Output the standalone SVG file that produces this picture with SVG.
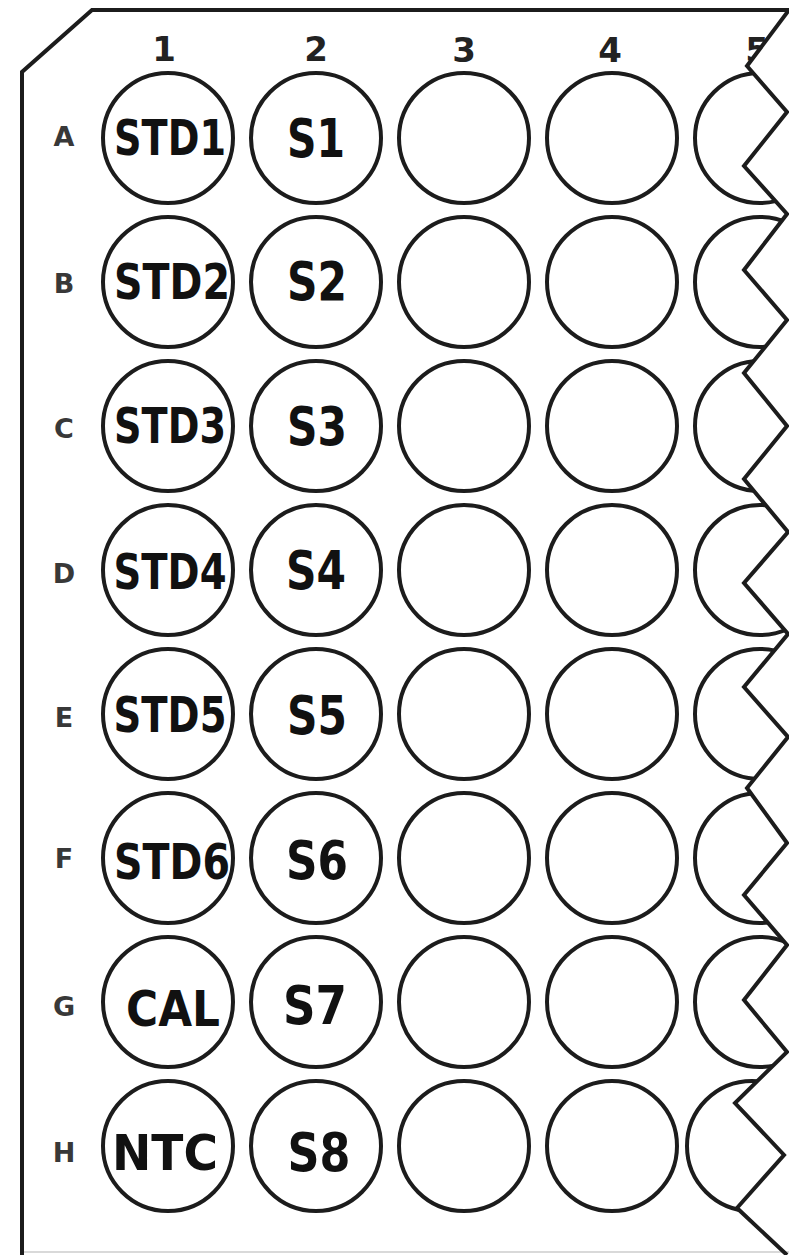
<svg xmlns="http://www.w3.org/2000/svg" width="789" height="1255" viewBox="0 0 789 1255">
  <style>
    .plate { fill: none; stroke: #1c1c1c; stroke-width: 4; stroke-linejoin: miter; }
    .well { fill: #ffffff; stroke: #1c1c1c; stroke-width: 4; }
    .col { font-family: "DejaVu Sans", "Liberation Sans", sans-serif; font-weight: bold; font-size: 34px; fill: #222; text-anchor: middle; }
    .row { font-family: "DejaVu Sans", "Liberation Sans", sans-serif; font-weight: bold; font-size: 27px; fill: #383838; text-anchor: middle; }
    .std { font-family: "DejaVu Sans", "Liberation Sans", sans-serif; font-weight: bold; font-size: 50px; fill: #111; text-anchor: middle; }
    .smp { font-family: "DejaVu Sans", "Liberation Sans", sans-serif; font-weight: bold; font-size: 53px; fill: #111; text-anchor: middle; }
  </style>
  <defs>
    <clipPath id="cut">
      <polygon points="0,0 789,0 789,10 747,66 787,112 744,166 787,214 744,270 787,320 744,373 787,426 744,479 788,532 744,583 788,634 744,687 788,737 747,788 787,843 744,895 787,945 744,1000 787,1052 735,1103 784,1155 737,1208 787,1255 0,1255"/>
    </clipPath>
  </defs>
  <rect x="0" y="0" width="789" height="1255" fill="#ffffff"/>

  <g id="column-labels">
    <text class="col" x="164" y="61">1</text>
    <text class="col" x="316" y="61">2</text>
    <text class="col" x="464" y="62">3</text>
    <text class="col" x="610" y="62">4</text>
    <text class="col" x="757" y="62" clip-path="url(#cut)">5</text>
  </g>

  <g id="row-labels">
    <text class="row" x="64" y="146">A</text>
    <text class="row" x="64" y="293">B</text>
    <text class="row" x="64" y="438">C</text>
    <text class="row" x="64" y="583">D</text>
    <text class="row" x="64" y="727">E</text>
    <text class="row" x="64" y="868">F</text>
    <text class="row" x="64" y="1016">G</text>
    <text class="row" x="64" y="1162">H</text>
  </g>

  <g id="col1">
    <g id="A1"><circle class="well" cx="168" cy="138" r="65"/><text class="std" x="170" y="155" textLength="112" lengthAdjust="spacingAndGlyphs">STD1</text></g>
    <g id="B1"><circle class="well" cx="168" cy="282" r="65"/><text class="std" x="172" y="299" textLength="116" lengthAdjust="spacingAndGlyphs">STD2</text></g>
    <g id="C1"><circle class="well" cx="168" cy="426" r="65"/><text class="std" x="170" y="443" textLength="112" lengthAdjust="spacingAndGlyphs">STD3</text></g>
    <g id="D1"><circle class="well" cx="168" cy="570" r="65"/><text class="std" x="170" y="589" textLength="113" lengthAdjust="spacingAndGlyphs">STD4</text></g>
    <g id="E1"><circle class="well" cx="168" cy="714" r="65"/><text class="std" x="170" y="732" textLength="113" lengthAdjust="spacingAndGlyphs">STD5</text></g>
    <g id="F1"><circle class="well" cx="168" cy="858" r="65"/><text class="std" x="172" y="879" textLength="116" lengthAdjust="spacingAndGlyphs">STD6</text></g>
    <g id="G1"><circle class="well" cx="168" cy="1002" r="65"/><text class="std" x="173" y="1026" textLength="94" lengthAdjust="spacingAndGlyphs">CAL</text></g>
    <g id="H1"><circle class="well" cx="168" cy="1146" r="65"/><text class="std" x="165" y="1170" textLength="106" lengthAdjust="spacingAndGlyphs">NTC</text></g>
  </g>

  <g id="col2">
    <g id="A2"><circle class="well" cx="316" cy="138" r="65"/><text class="smp" x="316" y="157" textLength="58" lengthAdjust="spacingAndGlyphs">S1</text></g>
    <g id="B2"><circle class="well" cx="316" cy="282" r="65"/><text class="smp" x="317" y="300" textLength="60" lengthAdjust="spacingAndGlyphs">S2</text></g>
    <g id="C2"><circle class="well" cx="316" cy="426" r="65"/><text class="smp" x="317" y="445" textLength="60" lengthAdjust="spacingAndGlyphs">S3</text></g>
    <g id="D2"><circle class="well" cx="316" cy="570" r="65"/><text class="smp" x="316" y="589" textLength="60" lengthAdjust="spacingAndGlyphs">S4</text></g>
    <g id="E2"><circle class="well" cx="316" cy="714" r="65"/><text class="smp" x="317" y="734" textLength="60" lengthAdjust="spacingAndGlyphs">S5</text></g>
    <g id="F2"><circle class="well" cx="316" cy="858" r="65"/><text class="smp" x="317" y="879" textLength="62" lengthAdjust="spacingAndGlyphs">S6</text></g>
    <g id="G2"><circle class="well" cx="316" cy="1002" r="65"/><text class="smp" x="315" y="1024" textLength="64" lengthAdjust="spacingAndGlyphs">S7</text></g>
    <g id="H2"><circle class="well" cx="316" cy="1146" r="65"/><text class="smp" x="319" y="1171" textLength="63" lengthAdjust="spacingAndGlyphs">S8</text></g>
  </g>

  <g id="col3">
    <circle id="A3" class="well" cx="464" cy="138" r="65"/>
    <circle id="B3" class="well" cx="464" cy="282" r="65"/>
    <circle id="C3" class="well" cx="464" cy="426" r="65"/>
    <circle id="D3" class="well" cx="464" cy="570" r="65"/>
    <circle id="E3" class="well" cx="464" cy="714" r="65"/>
    <circle id="F3" class="well" cx="464" cy="858" r="65"/>
    <circle id="G3" class="well" cx="464" cy="1002" r="65"/>
    <circle id="H3" class="well" cx="464" cy="1146" r="65"/>
  </g>

  <g id="col4">
    <circle id="A4" class="well" cx="612" cy="138" r="65"/>
    <circle id="B4" class="well" cx="612" cy="282" r="65"/>
    <circle id="C4" class="well" cx="612" cy="426" r="65"/>
    <circle id="D4" class="well" cx="612" cy="570" r="65"/>
    <circle id="E4" class="well" cx="612" cy="714" r="65"/>
    <circle id="F4" class="well" cx="612" cy="858" r="65"/>
    <circle id="G4" class="well" cx="612" cy="1002" r="65"/>
    <circle id="H4" class="well" cx="612" cy="1146" r="65"/>
  </g>

  <g id="col5" clip-path="url(#cut)">
    <circle id="A5" class="well" cx="760" cy="138" r="65"/>
    <circle id="B5" class="well" cx="760" cy="282" r="65"/>
    <circle id="C5" class="well" cx="760" cy="426" r="65"/>
    <circle id="D5" class="well" cx="760" cy="570" r="65"/>
    <circle id="E5" class="well" cx="760" cy="714" r="65"/>
    <circle id="F5" class="well" cx="760" cy="858" r="65"/>
    <circle id="G5" class="well" cx="760" cy="1002" r="65"/>
    <circle id="H5" class="well" cx="752" cy="1146" r="65"/>
  </g>

  <g id="plate">
    <line x1="24" y1="1252" x2="789" y2="1252" stroke="#d9d9d9" stroke-width="2"/>
    <path class="plate" d="M22,1255 V72 L92,10 H789 L747,66 L787,112 L744,166 L787,214 L744,270 L787,320 L744,373 L787,426 L744,479 L788,532 L744,583 L788,634 L744,687 L788,737 L747,788 L787,843 L744,895 L787,945 L744,1000 L787,1052 L735,1103 L784,1155 L737,1208 L787,1255"/>
  </g>

  <g id="connectors"/>
</svg>
